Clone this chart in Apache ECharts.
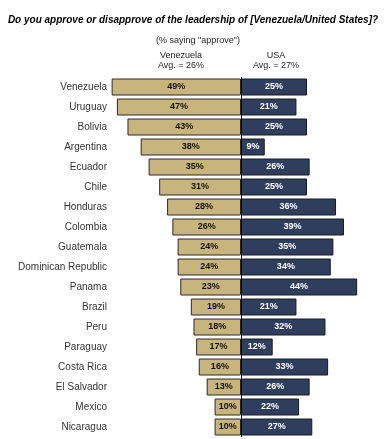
<!DOCTYPE html>
<html><head><meta charset="utf-8">
<script src="https://cdn.jsdelivr.net/npm/echarts@6/dist/echarts.min.js"></script>
<style>html,body{margin:0;padding:0;background:#fff}#c{width:386px;height:439px}</style>
</head><body><div id="c"></div>
<script>
const categories = ["Venezuela","Uruguay","Bolivia","Argentina","Ecuador","Chile","Honduras","Colombia","Guatemala","Dominican Republic","Panama","Brazil","Peru","Paraguay","Costa Rica","El Salvador","Mexico","Nicaragua"];
const venezuelaApprove = [49,47,43,38,35,31,28,26,24,24,23,19,18,17,16,13,10,10];
const usaApprove = [25,21,25,9,26,25,36,39,35,34,44,21,32,12,33,26,22,27];
const titleText = "Do you approve or disapprove of the leadership of [Venezuela/United States]?";
const subtitleText = "(% saying \"approve\")";
const venHeader = "Venezuela\nAvg. = 26%";
const usaHeader = "USA\nAvg. = 27%";

const chart = echarts.init(document.getElementById('c'), null, {renderer:'canvas'});
const FONT = 'Liberation Sans, Arial, sans-serif';
chart.setOption({
  animation:false,
  backgroundColor:'#fff',
  title:[
    {text:titleText, left:'center', top:10, textStyle:{fontFamily:FONT, fontSize:10, fontWeight:'bold', fontStyle:'italic', color:'#000'}},
    {text:subtitleText, left:193, textAlign:'center', top:31, textStyle:{fontFamily:FONT, fontSize:9, fontWeight:'normal', color:'#222'}},
    {text:venHeader, left:176, textAlign:'center', top:46, textStyle:{fontFamily:FONT, fontSize:9, fontWeight:'normal', color:'#222', lineHeight:10}},
    {text:usaHeader, left:271, textAlign:'center', top:46, textStyle:{fontFamily:FONT, fontSize:9, fontWeight:'normal', color:'#222', lineHeight:10}}
  ],
  grid:{left:109, right:13, top:77, bottom:2, containLabel:false},
  xAxis:{type:'value', min:-50, max:50, show:false},
  yAxis:{type:'category', data:categories, inverse:true,
    axisLine:{show:false}, axisTick:{show:false}, splitLine:{show:false},
    axisLabel:{fontFamily:FONT, fontSize:10, color:'#333', margin:2}},
  series:[
    {type:'bar', stack:'a', barWidth:17, data:venezuelaApprove.map(v=>-v),
      itemStyle:{color:'#c8b47d', borderColor:'#2a2a2a', borderWidth:1},
      label:{show:true, position:'inside', formatter:p=>(-p.value)+'%', fontFamily:FONT, fontSize:9, fontWeight:'bold', color:'#111'},
      markLine:{silent:true, symbol:'none', label:{show:false}, lineStyle:{color:'#000', width:1, type:'solid'}, data:[{xAxis:0}]}
    },
    {type:'bar', stack:'b', barWidth:17, barGap:'-100%', data:usaApprove,
      itemStyle:{color:'#2f3e5d', borderColor:'#1a1a1a', borderWidth:1},
      label:{show:true, position:'inside', formatter:p=>p.value+'%', fontFamily:FONT, fontSize:9, fontWeight:'bold', color:'#fff'}
    }
  ]
});
</script></body></html>
